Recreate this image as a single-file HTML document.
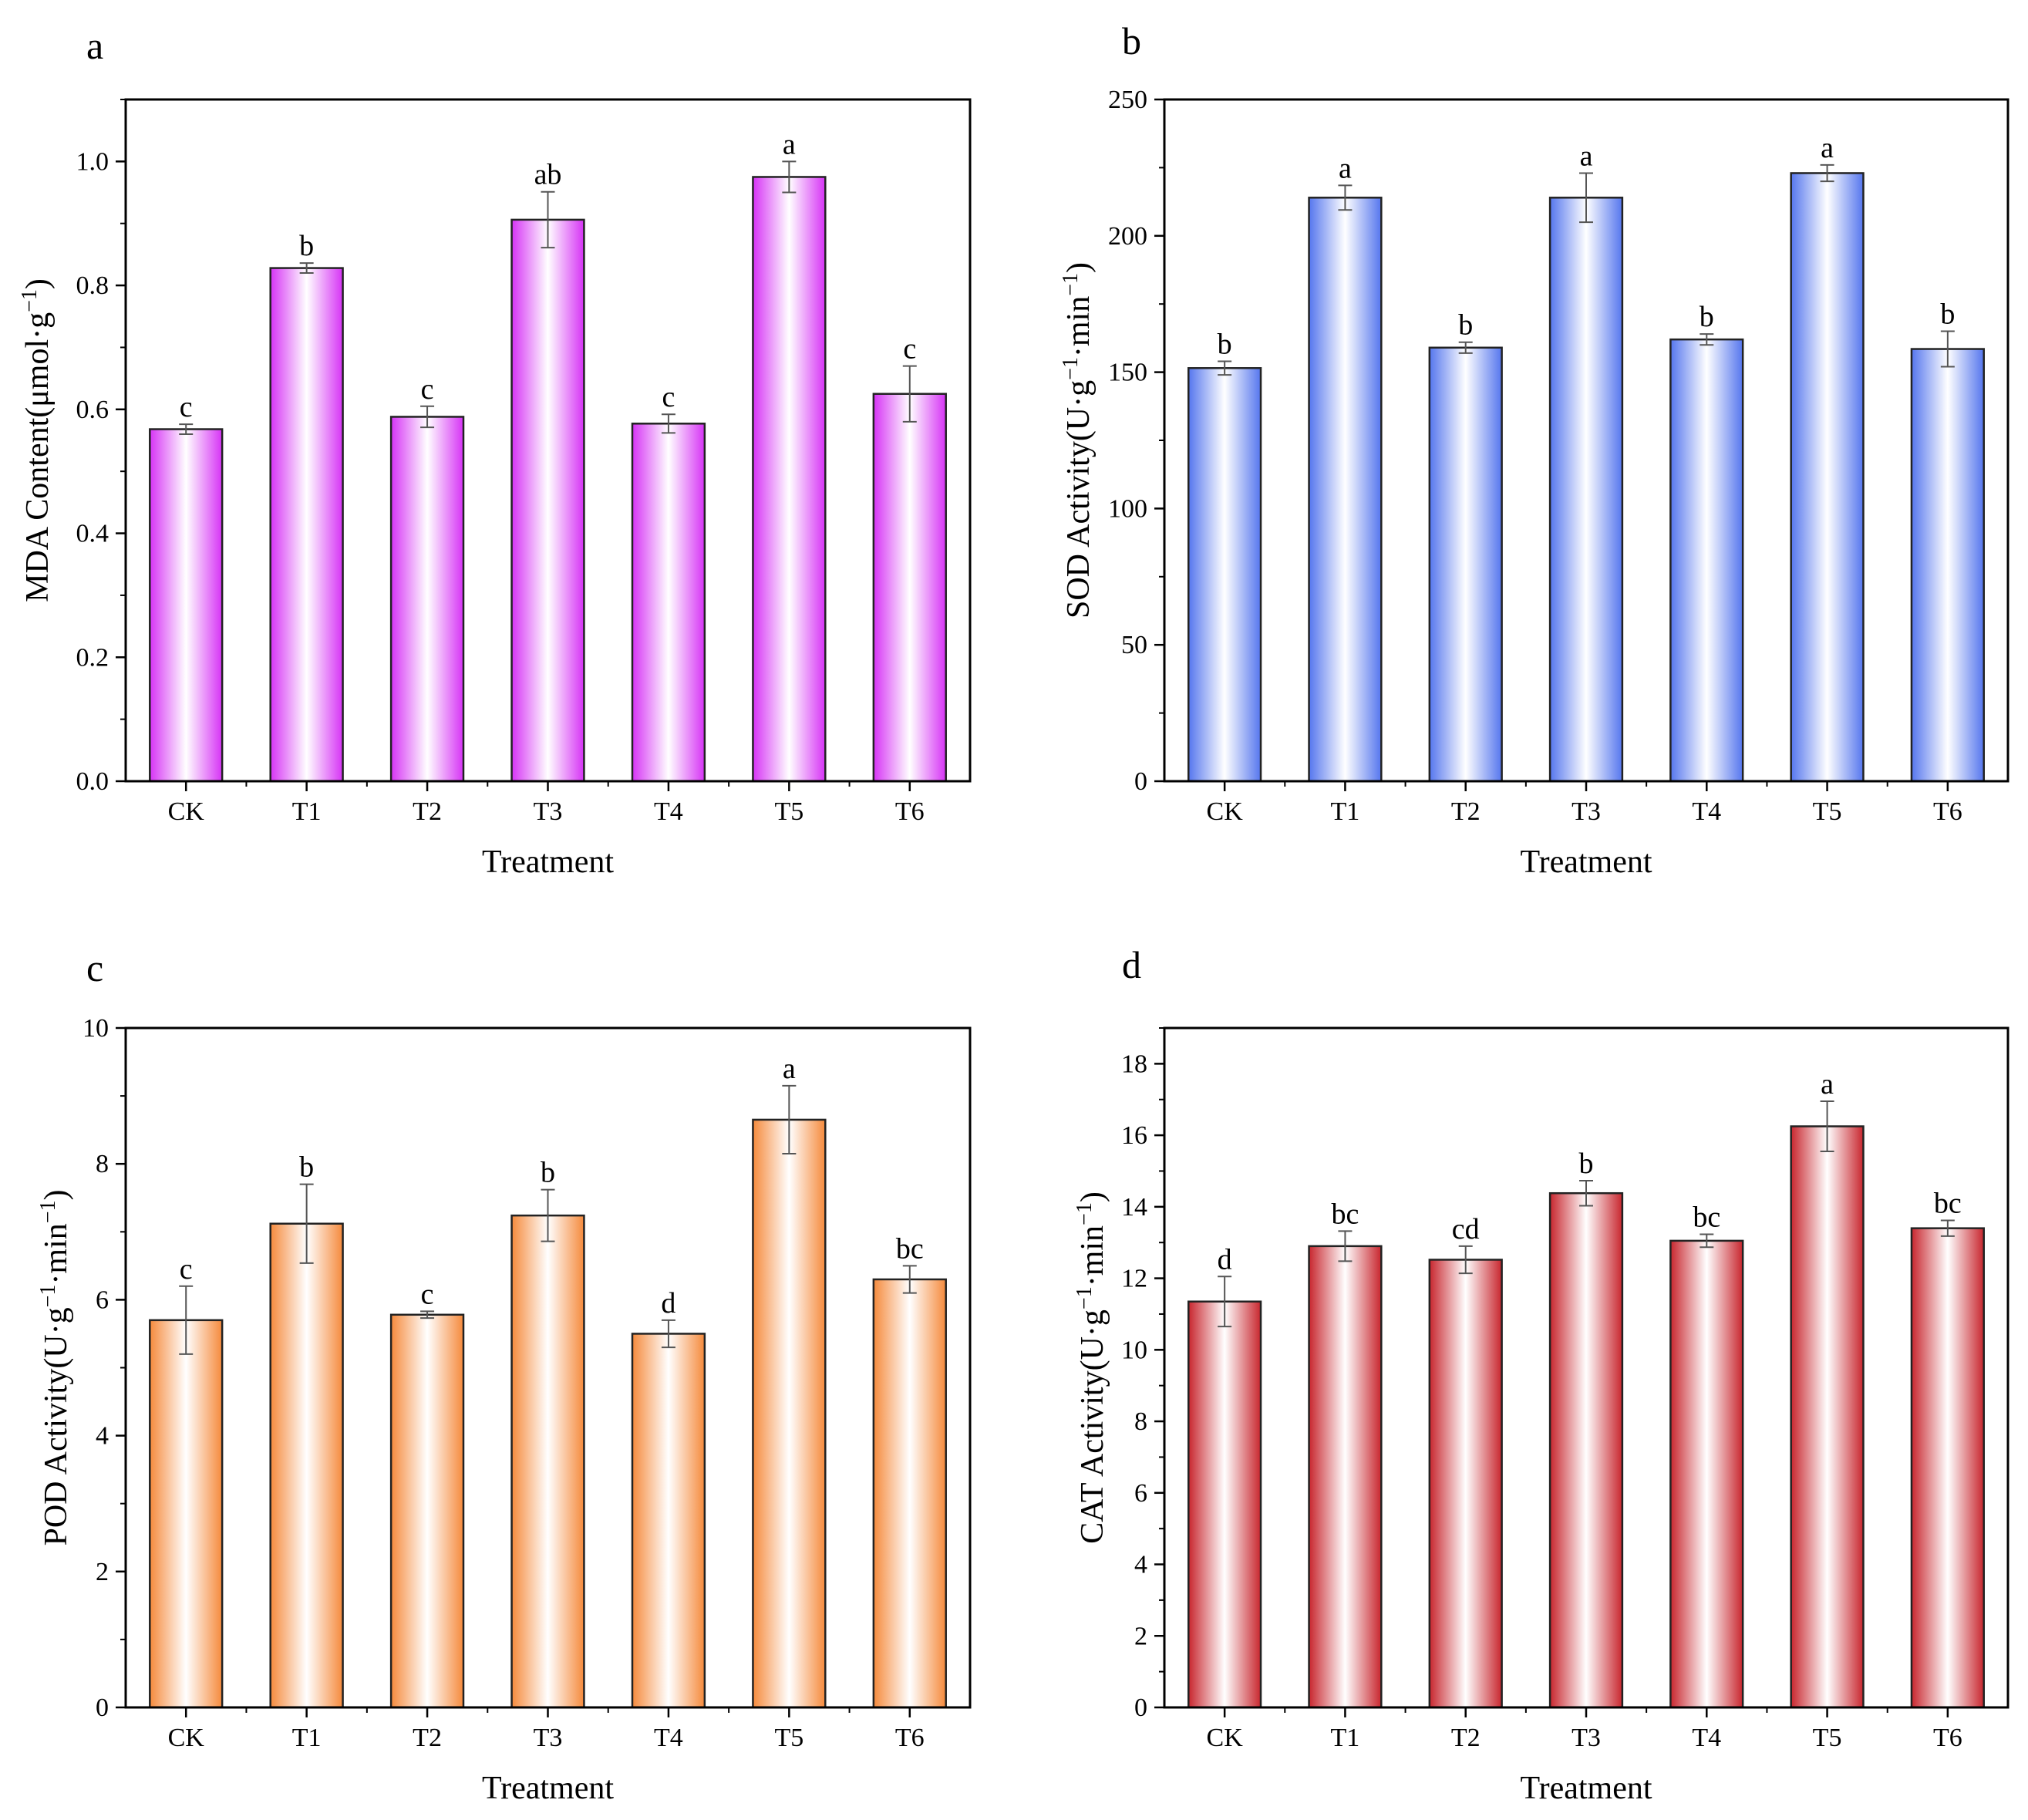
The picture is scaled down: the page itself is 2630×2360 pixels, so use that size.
<!DOCTYPE html>
<html><head><meta charset="utf-8">
<style>
html,body{margin:0;padding:0;background:#fff;}
svg{display:block;font-family:"Liberation Serif","Times New Roman",serif;}
</style></head>
<body>
<svg id="fig" width="2630" height="2360" viewBox="0 0 2630 2360" xmlns="http://www.w3.org/2000/svg">
<defs>
<linearGradient id="gA" x1="0" x2="1" y1="0" y2="0"><stop offset="0" stop-color="#d633f5"/><stop offset="0.5" stop-color="#ffffff"/><stop offset="1" stop-color="#d633f5"/></linearGradient>
<linearGradient id="gB" x1="0" x2="1" y1="0" y2="0"><stop offset="0" stop-color="#5576ee"/><stop offset="0.5" stop-color="#ffffff"/><stop offset="1" stop-color="#5576ee"/></linearGradient>
<linearGradient id="gC" x1="0" x2="1" y1="0" y2="0"><stop offset="0" stop-color="#f58a3c"/><stop offset="0.5" stop-color="#ffffff"/><stop offset="1" stop-color="#f58a3c"/></linearGradient>
<linearGradient id="gD" x1="0" x2="1" y1="0" y2="0"><stop offset="0" stop-color="#c8262e"/><stop offset="0.5" stop-color="#ffffff"/><stop offset="1" stop-color="#c8262e"/></linearGradient>
</defs>
</svg>
<script>
const categories = ["CK","T1","T2","T3","T4","T5","T6"];
const mdaValues = [0.568,0.828,0.588,0.906,0.577,0.975,0.625];
const mdaErrors = [0.008,0.008,0.017,0.045,0.015,0.025,0.045];
const mdaLetters = ["c","b","c","ab","c","a","c"];
const mdaTicks = ["0.0","0.2","0.4","0.6","0.8","1.0"];
const sodValues = [151.5,214,159,214,162,223,158.5];
const sodErrors = [2.5,4.5,2,9,2,3,6.5];
const sodLetters = ["b","a","b","a","b","a","b"];
const sodTicks = ["0","50","100","150","200","250"];
const podValues = [5.7,7.12,5.78,7.24,5.5,8.65,6.3];
const podErrors = [0.5,0.58,0.05,0.38,0.2,0.5,0.2];
const podLetters = ["c","b","c","b","d","a","bc"];
const podTicks = ["0","2","4","6","8","10"];
const catValues = [11.35,12.9,12.52,14.38,13.05,16.25,13.4];
const catErrors = [0.7,0.42,0.38,0.35,0.18,0.7,0.22];
const catLetters = ["d","bc","cd","b","bc","a","bc"];
const catTicks = ["0","2","4","6","8","10","12","14","16","18"];

const NS="http://www.w3.org/2000/svg";
const svg=document.getElementById('fig');
function mk(tag,attrs,parent,text){const e=document.createElementNS(NS,tag);for(const k in attrs)e.setAttribute(k,attrs[k]);if(text!==undefined)e.textContent=text;(parent||svg).appendChild(e);return e;}

function panel(o){
  const g=mk('g',{});
  
  
  const L=o.left,R=o.right,T=o.top,B=o.bottom;
  const ymax=o.ymax;
  const y=v=>B-(v/ymax)*(B-T);
  const step=(R-L)/categories.length;
  const x=i=>L+step*(i+0.5);
  const bw=step*0.6;
  const pl=mk('text',{x:o.letterX,y:o.letterY,'font-size':50,fill:'#000'},g,o.letter);
  
  
  o.values.forEach((v,i)=>{
    const r=mk('rect',{x:x(i)-bw/2,y:y(v),width:bw,height:B-y(v),fill:'url(#'+o.grad+')',stroke:'#222','stroke-width':2.5},g);
    
    
    const e=o.errors[i],yt=y(v+e),yb=y(v-e);
    const eb=mk('path',{d:`M${x(i)},${yt}V${yb}M${x(i)-9},${yt}H${x(i)+9}M${x(i)-9},${yb}H${x(i)+9}`,stroke:'#555','stroke-width':2,fill:'none'},g);
    
    
    const lt=mk('text',{x:x(i),y:yt-10,'font-size':38,'text-anchor':'middle',fill:'#000'},g,o.letters[i]);
    
    
  });
  const fr=mk('rect',{x:L,y:T,width:R-L,height:B-T,fill:'none',stroke:'#000','stroke-width':3},g);
  
  
  const tstep=ymax===1.1?0.2:(o.ticks.length>1?parseFloat(o.ticks[1]):1);
  o.ticks.forEach((t,k)=>{
    const v=k*tstep,yy=y(v);
    mk('line',{x1:L-13,x2:L,y1:yy,y2:yy,stroke:'#000','stroke-width':2.5},g);
    const tl=mk('text',{x:L-22,y:yy+11,'font-size':34,'text-anchor':'end',fill:'#000'},g,t);
    
    
    const mv=v+tstep/2;
    if(mv<=ymax+1e-9) mk('line',{x1:L-7,x2:L,y1:y(mv),y2:y(mv),stroke:'#000','stroke-width':2},g);
  });
  categories.forEach((c,i)=>{
    mk('line',{x1:x(i),x2:x(i),y1:B,y2:B+13,stroke:'#000','stroke-width':2.5},g);
    if(i>0) mk('line',{x1:L+step*i,x2:L+step*i,y1:B,y2:B+7,stroke:'#000','stroke-width':2},g);
    const xl=mk('text',{x:x(i),y:B+50,'font-size':34,'text-anchor':'middle',fill:'#000'},g,c);
    
    
  });
  const xt=mk('text',{x:(L+R)/2,y:B+118,'font-size':42,'text-anchor':'middle',fill:'#000'},g,'Treatment');
  
  
  const yt=mk('text',{x:0,y:0,'font-size':42,'text-anchor':'middle',fill:'#000',transform:`translate(${o.titleX},${(T+B)/2}) rotate(-90)`},g);
  
  
  yt.innerHTML=o.title;
}
const sup='<tspan dy="-15" font-size="28">−1</tspan><tspan dy="15">';
const sup2='<tspan dy="-15" font-size="28">−1</tspan><tspan dy="15">)</tspan>';
panel({name:'mda',letter:'a',letterX:112,letterY:76,left:163,right:1258,top:129,bottom:1013,ymax:1.1,values:mdaValues,errors:mdaErrors,letters:mdaLetters,ticks:mdaTicks,grad:'gA',titleX:62,
 title:'MDA Content(μmol·g'+sup+')</tspan>'});
panel({name:'sod',letter:'b',letterX:1455,letterY:70,left:1510,right:2604,top:129,bottom:1013,ymax:250,values:sodValues,errors:sodErrors,letters:sodLetters,ticks:sodTicks,grad:'gB',titleX:1412,
 title:'SOD Activity(U·g'+sup+'·min</tspan>'+sup2});
panel({name:'pod',letter:'c',letterX:112,letterY:1272,left:163,right:1258,top:1333,bottom:2214,ymax:10,values:podValues,errors:podErrors,letters:podLetters,ticks:podTicks,grad:'gC',titleX:86,
 title:'POD Activity(U·g'+sup+'·min</tspan>'+sup2});
panel({name:'cat',letter:'d',letterX:1455,letterY:1268,left:1510,right:2604,top:1333,bottom:2214,ymax:19,values:catValues,errors:catErrors,letters:catLetters,ticks:catTicks,grad:'gD',titleX:1430,
 title:'CAT Activity(U·g'+sup+'·min</tspan>'+sup2});
</script>
</body></html>
